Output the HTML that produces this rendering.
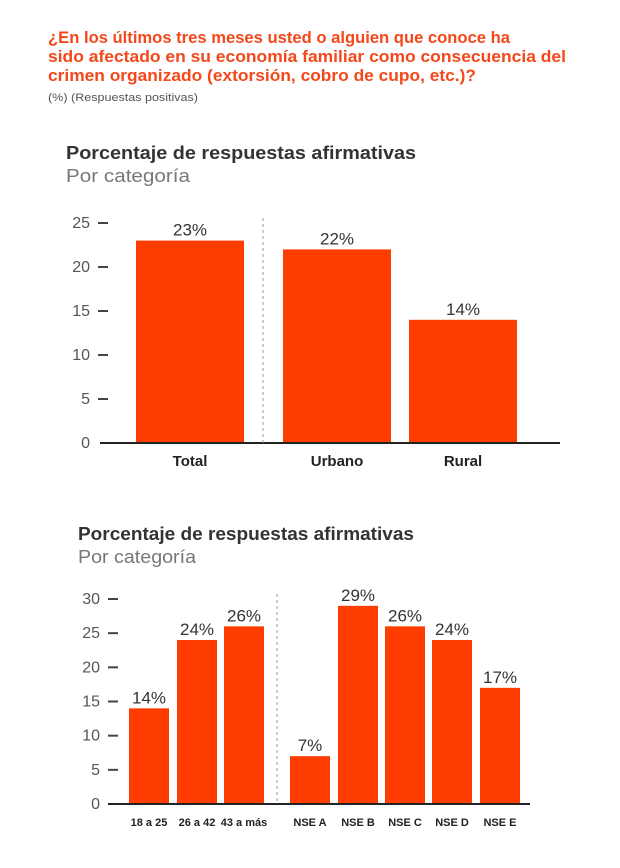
<!DOCTYPE html>
<html><head><meta charset="utf-8"><style>
html,body{margin:0;padding:0;background:#fff;}
svg{display:block;font-family:"Liberation Sans",sans-serif;}
</style></head><body>
<svg id="s" width="620" height="868" viewBox="0 0 620 868">
<g fill="#f4471a" font-weight="bold" font-size="16.5">
<text x="48" y="43" textLength="462" lengthAdjust="spacingAndGlyphs">¿En los últimos tres meses usted o alguien que conoce ha</text>
<text x="48" y="62" textLength="518" lengthAdjust="spacingAndGlyphs">sido afectado en su economía familiar como consecuencia del</text>
<text x="48" y="81" textLength="428" lengthAdjust="spacingAndGlyphs">crimen organizado (extorsión, cobro de cupo, etc.)?</text>
</g>
<text x="48" y="101" font-size="11" fill="#555" textLength="150" lengthAdjust="spacingAndGlyphs">(%) (Respuestas positivas)</text>

<text x="66" y="159" font-size="18" font-weight="bold" fill="#333" textLength="350" lengthAdjust="spacingAndGlyphs">Porcentaje de respuestas afirmativas</text>
<text x="66" y="182" font-size="18" fill="#777" textLength="124" lengthAdjust="spacingAndGlyphs">Por categoría</text>
<g id="c1"></g>

<text x="78" y="540" font-size="18" font-weight="bold" fill="#333" textLength="336" lengthAdjust="spacingAndGlyphs">Porcentaje de respuestas afirmativas</text>
<text x="78" y="563" font-size="18" fill="#777" textLength="118" lengthAdjust="spacingAndGlyphs">Por categoría</text>
<g id="c2"></g>
</svg>
<script>
const cats1 = ["Total","Urbano","Rural"];
const vals1 = [23,22,14];
const ticks1 = [0,5,10,15,20,25];
const cats2 = ["18 a 25","26 a 42","43 a más","NSE A","NSE B","NSE C","NSE D","NSE E"];
const vals2 = [14,24,26,7,29,26,24,17];
const ticks2 = [0,5,10,15,20,25,30];

const NS="http://www.w3.org/2000/svg";
function mk(p,t,a){const e=document.createElementNS(NS,t);for(const k in a)e.setAttribute(k,a[k]);p.appendChild(e);return e;}

function draw(g,cats,vals,ticks,cfg){
  const y=v=>cfg.y0-(v/cfg.vmax)*(cfg.y0-cfg.ytop);
  ticks.forEach(t=>{
    const tx=mk(g,'text',{x:cfg.tickX,y:y(t)+5,'text-anchor':'end','font-size':cfg.tfs,fill:'#555'});
    tx.textContent=t;
    
    
    if(t>0){const l=mk(g,'line',{x1:cfg.tickX+8,x2:cfg.tickX+18,y1:y(t),y2:y(t),stroke:'#444','stroke-width':2});
    
    }
  });
  cats.forEach((c,i)=>{
    const x=cfg.bx[i], w=cfg.bw;
    const r=mk(g,'rect',{x:x,y:y(vals[i]),width:w,height:cfg.y0-y(vals[i]),fill:'#ff3d00'});
    
    
    const v=mk(g,'text',{x:x+w/2,y:y(vals[i])-5,'text-anchor':'middle','font-size':cfg.vfs,fill:'#333'});
    v.textContent=vals[i]+'%';
    
    
    const cl=mk(g,'text',{x:x+w/2,y:cfg.y0+cfg.cdy,'text-anchor':'middle','font-size':cfg.cfs,'font-weight':'bold',fill:'#222'});
    cl.textContent=c;
    
    
  });
  const ax=mk(g,'line',{x1:cfg.axX1,x2:cfg.axX2,y1:cfg.y0,y2:cfg.y0,stroke:'#222','stroke-width':2});
  
  
  const d=mk(g,'line',{x1:cfg.divX,x2:cfg.divX,y1:cfg.ytop-5,y2:cfg.y0,stroke:'#999','stroke-width':1,'stroke-dasharray':'3,3'});
  
  
}
draw(document.getElementById('c1'),cats1,vals1,ticks1,{y0:443,ytop:223,vmax:25,tickX:90,tfs:16,vfs:17,cfs:15,cdy:23,bx:[136,283,409],bw:108,axX1:100,axX2:560,divX:263});
draw(document.getElementById('c2'),cats2,vals2,ticks2,{y0:804,ytop:599,vmax:30,tickX:100,tfs:16,vfs:17,cfs:11,cdy:22,bx:[129,177,224,290,338,385,432,480],bw:40,axX1:108,axX2:530,divX:277});
</script>
</body></html>
